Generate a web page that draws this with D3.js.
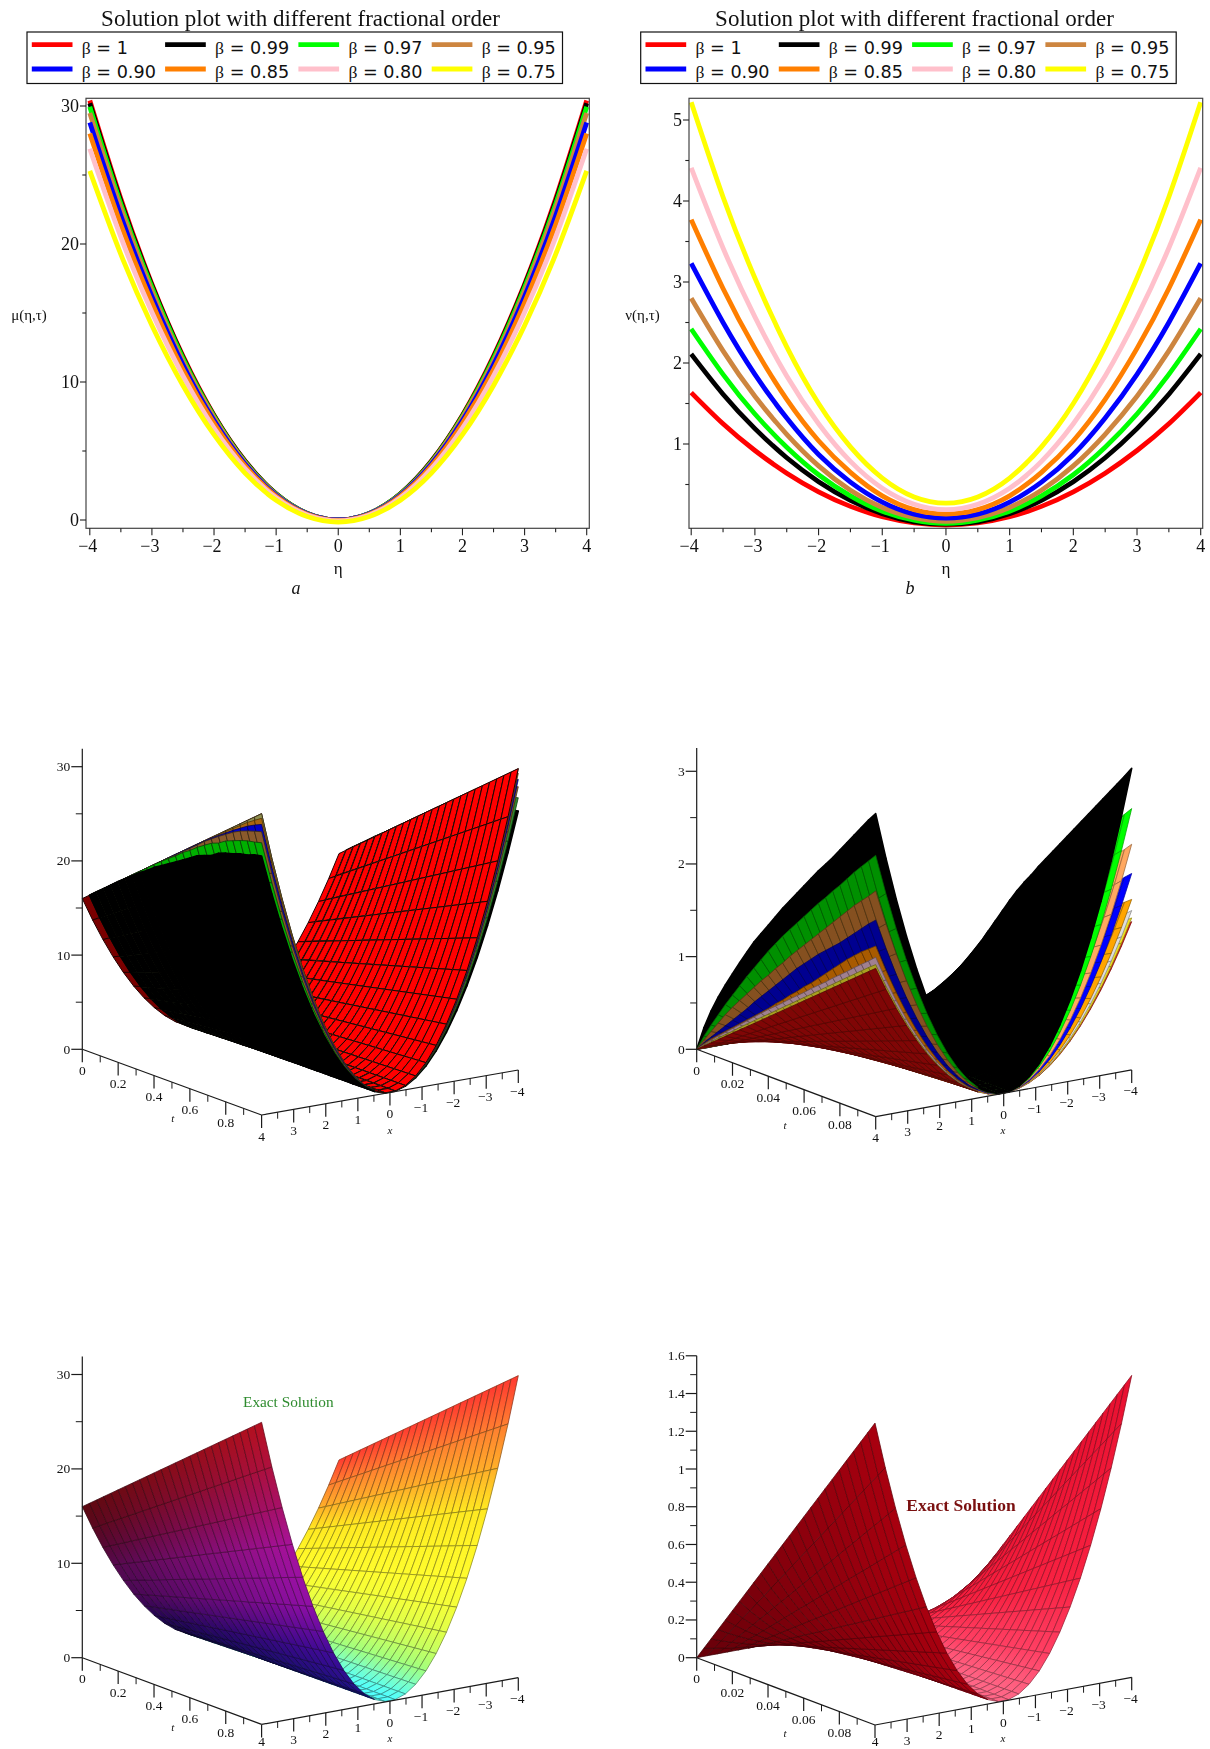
<!DOCTYPE html>
<html><head><meta charset="utf-8">
<script src="https://cdn.jsdelivr.net/npm/d3@7"></script>
<style>
html,body{margin:0;padding:0;background:#fff}
svg{display:block;filter:blur(0.4px)}
text{fill:#111}
</style></head><body><div id="c"></div>
<script>
// ---------- 2D curves: values read at eta = 0, .5, 1 ... 4 (the curves are mirrored about eta = 0)
const etaHalf = [0,0.5,1,1.5,2,2.5,3,3.5,4];
const betaLabels = ["1","0.99","0.97","0.95","0.90","0.85","0.80","0.75"];
const betaColors = ["#ff0000","#000000","#00ff00","#cd853f","#0000ff","#ff7f00","#ffc0cb","#ffff00"];
const muBeta1   = [0,0.475,1.9,4.275,7.6,11.875,17.1,23.275,30.4];
const muBeta099 = [0,0.47,1.89,4.25,7.55,11.8,17,23.1,30.2];
const muBeta097 = [0,0.47,1.87,4.2,7.5,11.7,16.85,22.9,29.95];
const muBeta095 = [0,0.46,1.84,4.15,7.4,11.5,16.6,22.6,29.5];
const muBeta090 = [0,0.45,1.8,4.05,7.2,11.25,16.2,22.05,28.8];
const muBeta085 = [-0.02,0.42,1.73,3.92,7,10.9,15.75,21.4,28];
const muBeta080 = [-0.06,0.37,1.62,3.72,6.66,10.45,15.05,20.5,26.9];
const muBeta075 = [-0.15,0.25,1.43,3.4,6.18,9.75,14.1,19.25,25.3];
const nuBeta1   = [0,0.026,0.102,0.23,0.41,0.64,0.92,1.25,1.635];
const nuBeta099 = [0.01,0.04,0.14,0.305,0.535,0.83,1.19,1.615,2.11];
const nuBeta097 = [0.02,0.06,0.17,0.36,0.62,0.96,1.37,1.86,2.42];
const nuBeta095 = [0.045,0.09,0.217,0.43,0.73,1.12,1.59,2.15,2.8];
const nuBeta090 = [0.085,0.134,0.282,0.53,0.87,1.32,1.86,2.5,3.23];
const nuBeta085 = [0.135,0.19,0.36,0.65,1.04,1.55,2.18,2.92,3.77];
const nuBeta080 = [0.19,0.256,0.454,0.785,1.25,1.84,2.57,3.42,4.41];
const nuBeta075 = [0.27,0.347,0.58,0.965,1.5,2.2,3.05,4.05,5.22];

// ---------- 3D surfaces: mesh stations
const xStations = [-4,-3.68,-3.36,-3.04,-2.72,-2.4,-2.08,-1.76,-1.44,-1.12,-0.8,-0.48,-0.16,0.16,0.48,0.8,1.12,1.44,1.76,2.08,2.4,2.72,3.04,3.36,3.68,4];
const rimProfile = [16,13.54,11.29,9.24,7.4,5.76,4.33,3.1,2.07,1.25,0.64,0.23,0.03,0.03,0.23,0.64,1.25,2.07,3.1,4.33,5.76,7.4,9.24,11.29,13.54,16];
const tFraction = [0,0.04,0.08,0.12,0.16,0.2,0.24,0.28,0.32,0.36,0.4,0.44,0.48,0.52,0.56,0.6,0.64,0.68,0.72,0.76,0.8,0.84,0.88,0.92,0.96,1];
// height of each sheet at |x| = 4, per t station
const muEdgeRed = [16,16.64,17.28,17.92,18.56,19.2,19.84,20.48,21.12,21.76,22.4,23.04,23.68,24.32,24.96,25.6,26.24,26.88,27.52,28.16,28.8,29.44,30.08,30.72,31.36,32];
const muEdgeOlive = [16,16.64,17.28,17.92,18.56,19.2,19.84,20.48,21.12,21.76,22.4,23.04,23.68,24.32,24.96,25.6,26.24,26.88,27.52,28.16,28.78,29.42,30.06,30.7,31.34,31.98];
const muEdgeOrange = [16,16.64,17.28,17.92,18.56,19.2,19.84,20.48,21.12,21.76,22.4,23.04,23.68,24.32,24.96,25.6,26.24,26.87,27.5,28.08,28.72,29.3,29.9,30.5,31,31.5];
const muEdgeBlue = [16,16.64,17.28,17.92,18.56,19.2,19.84,20.48,21.12,21.76,22.4,23.04,23.68,24.32,24.95,25.58,26.22,26.85,27.45,28,28.55,29.1,29.6,30.1,30.5,30.85];
const muEdgeBrown = [16,16.64,17.28,17.92,18.56,19.2,19.84,20.48,21.12,21.76,22.4,23.04,23.65,24.25,24.9,25.5,26.15,26.8,27.35,27.9,28.4,28.9,29.3,29.6,29.85,30.07];
const muEdgeGreen = [16,16.64,17.28,17.92,18.56,19.2,19.84,20.48,21.12,21.76,22.4,23,23.6,24.15,24.8,25.3,25.9,26.4,26.9,27.2,27.7,28,28.3,28.55,28.7,28.9];
const muEdgeBlack = [16,16.64,17.28,17.92,18.56,19.2,19.8,20.4,21,21.5,22.1,22.55,23.05,23.5,24,24.5,25,25.3,25.6,26.1,26.4,26.6,26.9,27.05,27.35,27.5];
const nuEdgeRed = [0,0.064,0.128,0.192,0.256,0.32,0.384,0.448,0.512,0.576,0.64,0.704,0.768,0.832,0.896,0.96,1.024,1.088,1.152,1.216,1.28,1.344,1.408,1.472,1.536,1.6];
const nuEdgeYellow = [0,0.07,0.14,0.21,0.275,0.34,0.41,0.475,0.54,0.605,0.67,0.735,0.8,0.865,0.93,0.995,1.06,1.125,1.19,1.255,1.32,1.385,1.45,1.515,1.58,1.64];
const nuEdgePink = [0,0.08,0.155,0.23,0.3,0.37,0.44,0.51,0.58,0.65,0.72,0.785,0.85,0.92,0.985,1.05,1.12,1.185,1.25,1.32,1.385,1.45,1.52,1.585,1.65,1.72];
const nuEdgeOrange = [0,0.09,0.17,0.24,0.31,0.38,0.45,0.52,0.59,0.66,0.73,0.81,0.88,0.96,1.03,1.11,1.18,1.26,1.34,1.42,1.5,1.58,1.65,1.72,1.78,1.84];
const nuEdgeBlue = [0,0.1,0.19,0.28,0.37,0.46,0.55,0.64,0.74,0.83,0.92,1.01,1.1,1.19,1.28,1.36,1.44,1.52,1.59,1.66,1.73,1.81,1.89,1.97,2.05,2.12];
const nuEdgeBrown = [0,0.13,0.25,0.37,0.49,0.6,0.7,0.8,0.9,1,1.09,1.19,1.28,1.38,1.47,1.56,1.65,1.74,1.83,1.92,2.01,2.1,2.19,2.27,2.35,2.435];
const nuEdgeGreen = [0,0.17,0.32,0.46,0.6,0.73,0.86,0.99,1.11,1.23,1.35,1.46,1.57,1.67,1.77,1.87,1.97,2.07,2.16,2.26,2.35,2.45,2.55,2.64,2.73,2.82];
const nuEdgeBlackLeft = [0,0.26,0.47,0.65,0.81,0.96,1.11,1.25,1.39,1.51,1.63,1.75,1.87,1.98,2.09,2.2,2.31,2.42,2.52,2.62,2.73,2.84,2.95,3.06,3.17,3.27];
const nuEdgeBlackRight = [0,0.24,0.46,0.63,0.78,0.92,1.06,1.2,1.34,1.47,1.59,1.7,1.82,1.93,2.04,2.15,2.26,2.37,2.48,2.59,2.7,2.81,2.92,3.03,3.14,3.255];

const xAxisMajor = [4,3,2,1,0,-1,-2,-3,-4];
const xAxisMinor = [3.5,2.5,1.5,0.5,-0.5,-1.5,-2.5,-3.5];
const tTicksMu = [0,0.2,0.4,0.6,0.8];
const tMinorMu = [0.1,0.3,0.5,0.7,0.9];
const tTicksNu = [0,0.02,0.04,0.06,0.08];
const tMinorNu = [0.01,0.03,0.05,0.07,0.09];
const muZMajor = [0,10,20,30], muZMinor = [5,15,25];
const nuZMajor = [0,1,2,3], nuZMinor = [0.5,1.5,2.5];
const nuExactZMajor = [0,0.2,0.4,0.6,0.8,1,1.2,1.4,1.6];
const nuExactZMinor = [0.1,0.3,0.5,0.7,0.9,1.1,1.3,1.5];

const W=1210,H=1749;
const SERIF='"Liberation Serif","Times New Roman",serif', SANS='"DejaVu Sans",sans-serif';
const svg=d3.select("#c").append("svg").attr("width",W).attr("height",H).attr("viewBox",`0 0 ${W} ${H}`);
const defs=svg.append("defs");

function txt(g,x,y,s,o={}){
  return g.append("text").attr("x",x).attr("y",y).text(s)
   .attr("font-family",o.family||SERIF).attr("font-size",o.size||15)
   .attr("font-style",o.style||null).attr("font-weight",o.weight||null)
   .attr("text-anchor",o.anchor||"middle").attr("dominant-baseline",o.base||"central")
   .style("fill",o.fill||"#111");
}
const minus=v=>String(v).replace("-","\u2212");

// ---------- 2D panels
function panel2D(cfg){
  const g=svg.append("g");
  const x=d3.scaleLinear().domain([-4,4]).range(cfg.xr);
  const y=d3.scaleLinear().domain(cfg.yd).range(cfg.yr);
  const [L,R,T,B]=[cfg.box[0],cfg.box[1],98.3,528.3];
  txt(g,cfg.titleX,26,"Solution plot with different fractional order",{size:23,base:"auto"});
  // legend
  const lg=g.append("g").attr("transform",`translate(${cfg.legX},0)`);
  lg.append("rect").attr("x",0).attr("y",32).attr("width",535.5).attr("height",51.5).attr("fill","#fff").attr("stroke","#111").attr("stroke-width",1.2);
  betaLabels.forEach((lab,i)=>{
    const cx=4.8+133.3*(i%4), ry=i<4?44.7:69;
    lg.append("line").attr("x1",cx).attr("x2",cx+40.7).attr("y1",ry).attr("y2",ry).attr("stroke",betaColors[i]).attr("stroke-width",4.8);
    const t=lg.append("text").attr("x",cx+50).attr("y",ry+9.3).attr("font-family",SANS).attr("font-size",17.6).style("fill","#111");
    t.append("tspan").attr("font-family",SERIF).text("\u03b2");
    t.append("tspan").text(" = "+lab);
  });
  // curves
  const line=d3.line().x(d=>x(d[0])).y(d=>y(d[1])).curve(d3.curveNatural);
  cfg.series.forEach((vals,i)=>{
    const pts=[...etaHalf.slice(1).reverse().map((e,k)=>[-e,vals[vals.length-1-k]]),...etaHalf.map((e,k)=>[e,vals[k]])];
    g.append("path").attr("d",line(pts)).attr("fill","none").attr("stroke",betaColors[i]).attr("stroke-width",4.8);
  });
  // frame
  g.append("rect").attr("x",L).attr("y",T).attr("width",R-L).attr("height",B-T).attr("fill","none").attr("stroke","#444").attr("stroke-width",1.2);
  // x ticks
  d3.range(-4,4.01,0.5).forEach(v=>{
    const major=Number.isInteger(v);
    g.append("line").attr("x1",x(v)).attr("x2",x(v)).attr("y1",B).attr("y2",B+(major?7:4)).attr("stroke","#222").attr("stroke-width",1.1);
    if(major) txt(g,x(v)+(v<0?-2:0),545.7,minus(v),{size:18});
  });
  cfg.yMajor.forEach(v=>{
    g.append("line").attr("x1",L-6).attr("x2",L).attr("y1",y(v)).attr("y2",y(v)).attr("stroke","#222").attr("stroke-width",1.1);
    txt(g,L-7,y(v),String(v),{size:18,anchor:"end"});
  });
  cfg.yMinor.forEach(v=>{
    g.append("line").attr("x1",L-3.7).attr("x2",L).attr("y1",y(v)).attr("y2",y(v)).attr("stroke","#222").attr("stroke-width",1.1);
  });
  txt(g,x(0),568,"\u03b7",{size:17});
  txt(g,cfg.labX,315,cfg.yLabel,{size:15});
  txt(g,cfg.capX,588,cfg.cap,{size:18,style:"italic"});
}
panel2D({xr:[89.8,586.7],yd:[0,30],yr:[520,106],box:[86,589.3],titleX:300.5,legX:27,
  series:[muBeta1,muBeta099,muBeta097,muBeta095,muBeta090,muBeta085,muBeta080,muBeta075],
  yMajor:[0,10,20,30],yMinor:[5,15,25],yLabel:"\u03bc(\u03b7,\u03c4)",labX:29,cap:"a",capX:296});
panel2D({xr:[691.2,1200.7],yd:[1,5],yr:[444,120],box:[689,1202.7],titleX:914.5,legX:640.7,
  series:[nuBeta1,nuBeta099,nuBeta097,nuBeta095,nuBeta090,nuBeta085,nuBeta080,nuBeta075],
  yMajor:[1,2,3,4,5],yMinor:[0.5,1.5,2.5,3.5,4.5],yLabel:"\u03bd(\u03b7,\u03c4)",labX:642.5,cap:"b",capX:910});

// ---------- 3D panels (parallel projection through three linear scales)
function makeProjection(c){
  const tX=d3.scaleLinear().domain([0,c.tMax]).range([0,c.vt[0]]);
  const tY=d3.scaleLinear().domain([0,c.tMax]).range([0,c.vt[1]]);
  const xX=d3.scaleLinear().domain([4,-4]).range([0,c.vx[0]]);
  const xY=d3.scaleLinear().domain([4,-4]).range([0,c.vx[1]]);
  const zY=d3.scaleLinear().domain([0,1]).range([0,-c.k]);
  return (t,x,z)=>[c.o[0]+tX(t)+xX(x), c.o[1]+tY(t)+xY(x)+zY(z)];
}
function area(p){let s=0;for(let i=0;i<4;i++){const a=p[i],b=p[(i+1)%4];s+=a[0]*b[1]-b[0]*a[1];}return s;}
let gradId=0;
function panel3D(c){
  const g=svg.append("g");
  const P=makeProjection(c);
  const sheets=c.sheets;            // listed lowest to highest
  const base=area([P(0,-4,0),P(c.tMax,-4,0),P(c.tMax,4,0),P(0,4,0)]);
  const gs=g.append("g");
  const pathOf=d3.line();
  for(let i=0;i<tFraction.length-1;i++){
    for(let j=0;j<xStations.length-1;j++){
      const built=sheets.filter(s=>i>=(s.start||0)).map(s=>{
        const h=(ti,xi)=>{const e=(s.edgeRight&&xStations[xi]<0)?s.edgeRight:s.edge;return e[ti]*rimProfile[xi]/16;};
        const q=[[i,j],[i+1,j],[i+1,j+1],[i,j+1]].map(([a,b])=>P(tFraction[a]*c.tMax,xStations[b],h(a,b)));
        const up=area(q)*base>0;
        return {s,q,up};
      });
      const up=built.length?built[0].up:true;
      const tm=(tFraction[i]+tFraction[i+1])/2, r0=rimProfile[j], r1=rimProfile[j+1], rm=(r0+r1)/2;
      (up?built:built.slice().reverse()).forEach(b=>{
        const col=b.up?b.s.top:b.s.under;
        const mean=col(rm,tm);
        const stroke=b.s.mesh===false?mean:(b.s.meshColor?b.s.meshColor:d3.rgb(mean).darker(b.s.meshDark||1.6).formatHex());
        let fill=mean;
        if(b.s.gradient){
          const id="g"+(gradId++);
          const a=[(b.q[0][0]+b.q[1][0])/2,(b.q[0][1]+b.q[1][1])/2], e=[(b.q[2][0]+b.q[3][0])/2,(b.q[2][1]+b.q[3][1])/2];
          const lg=defs.append("linearGradient").attr("id",id).attr("gradientUnits","userSpaceOnUse")
            .attr("x1",a[0]).attr("y1",a[1]).attr("x2",e[0]).attr("y2",e[1]);
          lg.append("stop").attr("offset",0).attr("stop-color",col(r0,tm));
          lg.append("stop").attr("offset",1).attr("stop-color",col(r1,tm));
          fill=`url(#${id})`;
        }
        gs.append("path").attr("d",pathOf(b.q)+"Z").attr("fill",fill).attr("stroke",stroke).attr("stroke-width",b.s.meshW||0.75).attr("stroke-linejoin","round");
      });
    }
  }
  // axes
  const ax=g.append("g");
  const l=(a,b,w=1.2)=>ax.append("line").attr("x1",a[0]).attr("y1",a[1]).attr("x2",b[0]).attr("y2",b[1]).attr("stroke","#1a1a1a").attr("stroke-width",w);
  const O=P(0,4,0);
  l(O,P(c.tMax,4,0)); l(P(c.tMax,4,0),P(c.tMax,-4,0)); l(O,P(0,4,c.zTop));
  const ly=v=>Math.min(v,1741.5);
  c.tMajor.forEach(v=>{const p=P(v,4,0);l(p,[p[0],p[1]+13]);txt(ax,p[0],ly(p[1]+21),c.tLabel(v),{size:13.5});});
  c.tMinor.forEach(v=>{const p=P(v,4,0);l(p,[p[0],p[1]+6.5],1);});
  xAxisMajor.forEach(v=>{const p=P(c.tMax,v,0);l(p,[p[0],p[1]+13]);txt(ax,p[0]+(v<0?-1:0),ly(p[1]+21),minus(v),{size:13.5});});
  xAxisMinor.forEach(v=>{const p=P(c.tMax,v,0);l(p,[p[0],p[1]+6.5],1);});
  c.zMajor.forEach(v=>{const p=P(0,4,v);l([p[0]-11,p[1]],p);txt(ax,p[0]-12,p[1],String(v),{size:13.5,anchor:"end"});});
  c.zMinor.forEach(v=>{const p=P(0,4,v);l([p[0]-6.5,p[1]],p,1);});
  txt(ax,c.tName[0],c.tName[1],"t",{size:11,style:"italic"});
  txt(ax,c.xName[0],c.xName[1],"x",{size:11,style:"italic"});
  if(c.note) txt(g,c.note.x,c.note.y,"Exact Solution",{size:c.note.size,weight:c.note.weight,fill:c.note.fill});
}
const flat=(col)=>()=>col;
const shade=(col,lo,t)=>{const r=d3.rgb(col),f=lo+(1-lo)*t;return d3.rgb(r.r*f,r.g*f,r.b*f).formatHex();};
const sheet=(edge,top,under,o={})=>Object.assign({edge,top:flat(top),under:flat(under)},o);

panel3D({o:[82.3,1049.3],vt:[179.3,65.7],vx:[256.7,-45],k:9.42,tMax:1,zTop:31.9,
  tMajor:tTicksMu,tMinor:tMinorMu,tLabel:v=>String(v),zMajor:muZMajor,zMinor:muZMinor,
  tName:[172.7,1118],xName:[390,1130],
  sheets:[
   sheet(muEdgeBlack,"#000000","#000000",{start:1,mesh:false,meshW:1.6}),
   sheet(muEdgeGreen,"#2f8a2f","#00b000",{start:1,meshColor:"#0a3a0a"}),
   sheet(muEdgeBrown,"#8a5a2a","#8a5a2c",{start:1,meshColor:"#3a2a10"}),
   sheet(muEdgeBlue,"#0000d0","#0000c8",{start:1,meshColor:"#000050"}),
   sheet(muEdgeOrange,"#a86a10","#a8650f",{start:1,meshColor:"#4a3000"}),
   sheet(muEdgeOlive,"#8e8e50","#8e8e50",{start:1,meshColor:"#404020"}),
   sheet(muEdgeRed,"#ff0000","#7a0000",{meshColor:"#200000",meshW:1})
  ]});
panel3D({o:[696.7,1049.3],vt:[179,67.3],vx:[256,-46.7],k:92.67,tMax:0.1,zTop:3.25,
  tMajor:tTicksNu,tMinor:tMinorNu,tLabel:v=>String(v),zMajor:nuZMajor,zMinor:nuZMinor,
  tName:[785,1125],xName:[1003,1130],
  sheets:[
   sheet(nuEdgeRed,"#c81010","#800606",{meshDark:1.2}),
   sheet(nuEdgeYellow,"#f0e020","#a8a020",{meshDark:1.4}),
   sheet(nuEdgePink,"#dddddd","#a08090",{meshDark:1.4}),
   sheet(nuEdgeOrange,"#ffa500","#a85a00",{meshDark:1.4}),
   sheet(nuEdgeBlue,"#0000ff","#000090",{meshDark:1.2}),
   sheet(nuEdgeBrown,"#ffa860","#855020",{meshDark:1.4}),
   sheet(nuEdgeGreen,"#00ff00","#009000",{meshDark:1.2}),
   {edge:nuEdgeBlackLeft,edgeRight:nuEdgeBlackRight,top:flat("#000000"),under:flat("#000000"),mesh:false,meshW:1.6}
  ]});
// exact solution colour ramps, running along x through the rim height
const eTop=d3.scaleLinear().domain([0,0.64,1.25,2.6,5,9,11.3,13.5,16]).range(["#50ffff","#80ffc0","#a0ff80","#d8ff50","#ffff30","#ffee20","#ffb028","#ff8030","#ff3a30"]);
const eUnder=d3.scaleLinear().domain([0,1.25,3,5.76,9,11,13.5,16]).range(["#101078","#28108c","#400a9c","#900fa8","#a812a0","#a81070","#b01040","#b81020"]);
const fTop=d3.scaleLinear().domain([0,2,6,16]).range(["#ff6888","#ff4064","#f82040","#e81030"]);
panel3D({o:[82.3,1657.7],vt:[179.3,66.7],vx:[256.7,-46.7],k:9.44,tMax:1,zTop:31.9,
  tMajor:tTicksMu,tMinor:tMinorMu,tLabel:v=>String(v),zMajor:muZMajor,zMinor:muZMinor,
  tName:[172.7,1727],xName:[390,1738],
  note:{x:288.3,y:1401.7,size:15.3,fill:"#2e8b2e"},
  sheets:[{edge:muEdgeRed,meshDark:1.7,gradient:true,
    top:(r)=>d3.rgb(eTop(r)).formatHex(),
    under:(r,t)=>shade(eUnder(r),0.5,t)}]});
panel3D({o:[696.7,1657.7],vt:[178.3,67.3],vx:[256.7,-47.7],k:188.7,tMax:0.1,zTop:1.6,
  tMajor:tTicksNu,tMinor:tMinorNu,tLabel:v=>String(v),zMajor:nuExactZMajor,zMinor:nuExactZMinor,
  tName:[785,1733],xName:[1003,1738],
  note:{x:961,y:1505,size:17.5,weight:"bold",fill:"#7a1010"},
  sheets:[{edge:nuEdgeRed,meshDark:1.5,gradient:true,
    top:(r)=>d3.rgb(fTop(r)).formatHex(),
    under:(r,t)=>shade("#a8000f",0.62,t)}]});
</script></body></html>
